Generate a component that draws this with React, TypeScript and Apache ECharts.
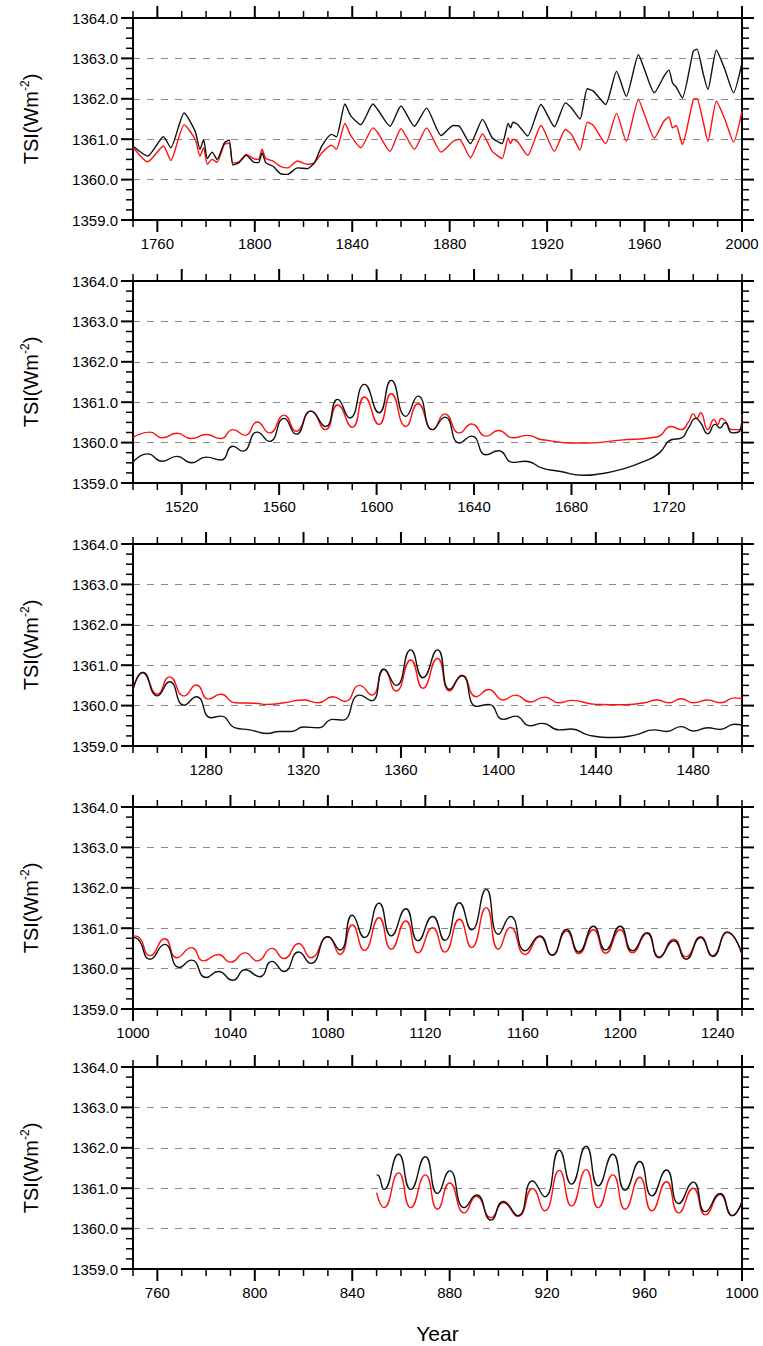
import React, { useEffect, useRef } from "react";
import * as echarts from "echarts";

// x ranges of the five panels (top to bottom)
const panelRanges: number[][] = [
  [1750, 2000],
  [1500, 1750],
  [1250, 1500],
  [1000, 1250],
  [750, 1000],
];

// labelled x ticks per panel
const xTickLabels: number[][] = [
  [1760, 1800, 1840, 1880, 1920, 1960, 2000],
  [1520, 1560, 1600, 1640, 1680, 1720],
  [1280, 1320, 1360, 1400, 1440, 1480],
  [1000, 1040, 1080, 1120, 1160, 1200, 1240],
  [760, 800, 840, 880, 920, 960, 1000],
];

// labelled y ticks (same for every panel)
const yTickLabels = [1359, 1360, 1361, 1362, 1363, 1364];
const yMin = 1359;
const yMax = 1364;

// Panel 1 : 1750-2000
const p1Black = [
  [1750, 1360.83], [1756, 1360.58], [1762.5, 1361.06], [1765.5, 1360.79], [1771, 1361.65],
  [1775.5, 1361.2], [1777.5, 1360.75], [1779, 1360.99], [1780.5, 1360.52], [1782.5, 1360.68],
  [1784.5, 1360.5], [1787.5, 1360.91], [1789.5, 1360.98], [1791, 1360.36], [1793.5, 1360.42],
  [1796.5, 1360.6], [1799.5, 1360.43], [1801.5, 1360.42], [1803, 1360.66], [1804.5, 1360.42],
  [1807.5, 1360.33], [1810.5, 1360.15], [1813.5, 1360.13], [1817.5, 1360.29], [1821.5, 1360.27],
  [1824.5, 1360.42], [1827.5, 1360.83], [1831.5, 1361.12], [1833.5, 1361.06], [1837, 1361.87],
  [1839.5, 1361.57], [1843.5, 1361.36], [1848.5, 1361.87], [1850.5, 1361.73], [1855.5, 1361.32],
  [1860, 1361.82], [1865.5, 1361.32], [1870.5, 1361.77], [1876.5, 1361.09], [1881.5, 1361.34],
  [1884, 1361.32], [1888.5, 1360.89], [1893.5, 1361.49], [1897.5, 1361.03], [1901.5, 1360.89],
  [1904, 1361.39], [1905, 1361.28], [1906, 1361.42], [1908, 1361.36], [1912, 1361.08],
  [1917.5, 1361.86], [1923, 1361.31], [1927.5, 1361.9], [1930, 1361.77], [1933.5, 1361.5],
  [1936.5, 1362.25], [1939, 1362.19], [1944, 1361.86], [1948.5, 1362.68], [1952.5, 1362.06],
  [1957.5, 1363.09], [1960, 1362.72], [1964, 1362.15], [1968, 1362.56], [1970, 1362.71],
  [1971.5, 1362.39], [1973, 1362.29], [1975.5, 1362.02], [1980, 1363.18], [1981.5, 1363.23],
  [1984, 1362.64], [1986, 1362.23], [1989.5, 1363.2], [1993, 1362.72], [1996.5, 1362.15],
  [2000, 1362.89],
];
const p1Red = [
  [1750, 1360.8], [1756, 1360.44], [1762.5, 1360.83], [1765.5, 1360.47], [1771, 1361.36],
  [1775.5, 1361.0], [1777.5, 1360.58], [1779, 1360.79], [1780.5, 1360.38], [1782.5, 1360.5],
  [1784.5, 1360.43], [1787.5, 1360.87], [1789.5, 1360.9], [1791, 1360.41], [1793.5, 1360.44],
  [1796.5, 1360.62], [1799.5, 1360.52], [1801.5, 1360.5], [1803, 1360.75], [1804.5, 1360.52],
  [1807.5, 1360.46], [1810.5, 1360.33], [1813.5, 1360.29], [1817.5, 1360.46], [1821.5, 1360.38],
  [1824.5, 1360.42], [1827.5, 1360.66], [1831.5, 1360.85], [1833.5, 1360.75], [1837, 1361.39],
  [1839.5, 1361.08], [1843.5, 1360.79], [1848.5, 1361.28], [1850.5, 1361.16], [1855.5, 1360.7],
  [1860, 1361.26], [1865.5, 1360.75], [1870.5, 1361.28], [1876.5, 1360.68], [1881.5, 1360.95],
  [1884, 1361.0], [1888.5, 1360.54], [1893.5, 1361.13], [1897.5, 1360.7], [1901.5, 1360.52],
  [1904, 1361.03], [1905, 1360.89], [1906, 1361.0], [1908, 1360.93], [1912, 1360.6],
  [1917.5, 1361.34], [1923, 1360.7], [1927.5, 1361.24], [1930, 1361.12], [1933.5, 1360.73],
  [1936.5, 1361.42], [1939, 1361.34], [1944, 1360.89], [1948.5, 1361.64], [1952.5, 1360.95],
  [1957.5, 1361.98], [1960, 1361.61], [1964, 1361.03], [1968, 1361.45], [1970, 1361.55],
  [1971.5, 1361.28], [1973, 1361.34], [1975.5, 1360.87], [1980, 1361.98], [1981.5, 1362.0],
  [1984, 1361.45], [1986, 1360.95], [1989.5, 1361.94], [1993, 1361.49], [1996.5, 1360.93],
  [2000, 1361.69],
];

// Panel 2 : 1500-1750
const p2Black = [
  [1500, 1359.52], [1506, 1359.72], [1512, 1359.54], [1518, 1359.66], [1524, 1359.5],
  [1530, 1359.64], [1536, 1359.57], [1541, 1359.91], [1545, 1359.79], [1551, 1360.26],
  [1556, 1360.03], [1562, 1360.6], [1567, 1360.21], [1573, 1360.78], [1579, 1360.4],
  [1584, 1361.07], [1589, 1360.61], [1595, 1361.44], [1601, 1360.74], [1606, 1361.54],
  [1612, 1360.65], [1617, 1361.15], [1623, 1360.32], [1628, 1360.63], [1634, 1359.99],
  [1639, 1360.16], [1645, 1359.7], [1650, 1359.8], [1656, 1359.51], [1661, 1359.54],
  [1668, 1359.37], [1675, 1359.29], [1685, 1359.19], [1692, 1359.23], [1700, 1359.33],
  [1710, 1359.54], [1716, 1359.74], [1721, 1360.07], [1725, 1360.11], [1728, 1360.36],
  [1731, 1360.6], [1733, 1360.49], [1736, 1360.22], [1739, 1360.45], [1741, 1360.36],
  [1743, 1360.49], [1746, 1360.24], [1749, 1360.28], [1750, 1360.65],
];
const p2Red = [
  [1500, 1360.12], [1507, 1360.26], [1512, 1360.12], [1518, 1360.23], [1524, 1360.1],
  [1530, 1360.2], [1536, 1360.1], [1541, 1360.32], [1546, 1360.18], [1551, 1360.51],
  [1556, 1360.24], [1562, 1360.68], [1567, 1360.28], [1573, 1360.78], [1579, 1360.32],
  [1584, 1360.93], [1590, 1360.38], [1595, 1361.13], [1601, 1360.45], [1606, 1361.21],
  [1612, 1360.4], [1617, 1360.96], [1623, 1360.32], [1628, 1360.71], [1634, 1360.24],
  [1639, 1360.46], [1645, 1360.16], [1650, 1360.3], [1656, 1360.12], [1662, 1360.18],
  [1668, 1360.07], [1685, 1359.99], [1700, 1360.06], [1715, 1360.14], [1721, 1360.4],
  [1725, 1360.32], [1728, 1360.51], [1730, 1360.71], [1731.5, 1360.6], [1733, 1360.74],
  [1736, 1360.32], [1738.5, 1360.57], [1740, 1360.45], [1741.5, 1360.6], [1743, 1360.55],
  [1746, 1360.32], [1749, 1360.32], [1750, 1360.69],
];

// Panel 3 : 1250-1500
const p3Black = [
  [1250, 1360.4], [1254, 1360.82], [1260, 1360.24], [1265, 1360.59], [1271, 1360.01],
  [1276, 1360.22], [1282, 1359.7], [1286, 1359.74], [1292, 1359.45], [1298, 1359.4],
  [1305, 1359.31], [1310, 1359.36], [1315, 1359.36], [1320, 1359.47], [1326, 1359.45],
  [1332, 1359.66], [1336, 1359.64], [1343, 1360.26], [1348, 1360.12], [1353, 1360.9],
  [1358, 1360.5], [1364, 1361.38], [1369, 1360.69], [1375, 1361.38], [1380, 1360.4],
  [1385, 1360.74], [1391, 1359.98], [1396, 1360.03], [1402, 1359.66], [1407, 1359.74],
  [1413, 1359.5], [1418, 1359.56], [1425, 1359.4], [1430, 1359.42], [1437, 1359.27],
  [1447, 1359.21], [1456, 1359.27], [1464, 1359.4], [1469, 1359.36], [1475, 1359.48],
  [1480, 1359.37], [1486, 1359.45], [1491, 1359.41], [1497, 1359.54], [1500, 1359.52],
];
const p3Red = [
  [1250, 1360.4], [1254, 1360.82], [1260, 1360.28], [1265, 1360.71], [1271, 1360.24],
  [1276, 1360.51], [1281, 1360.16], [1286, 1360.28], [1292, 1360.07], [1300, 1360.06],
  [1305, 1360.03], [1312, 1360.07], [1320, 1360.14], [1326, 1360.07], [1332, 1360.22],
  [1337, 1360.1], [1343, 1360.5], [1348, 1360.26], [1353, 1360.9], [1358, 1360.36],
  [1364, 1361.13], [1369, 1360.43], [1375, 1361.17], [1380, 1360.36], [1385, 1360.75],
  [1391, 1360.22], [1396, 1360.4], [1402, 1360.14], [1407, 1360.26], [1413, 1360.09],
  [1419, 1360.21], [1425, 1360.07], [1430, 1360.13], [1440, 1360.03], [1450, 1360.02],
  [1460, 1360.07], [1465, 1360.14], [1470, 1360.07], [1475, 1360.17], [1480, 1360.07],
  [1486, 1360.14], [1491, 1360.07], [1497, 1360.19], [1500, 1360.17],
];

// Panel 4 : 1000-1250
const p4Black = [
  [1000, 1360.77], [1002, 1360.73], [1007, 1360.23], [1013, 1360.6], [1019, 1360.03],
  [1024, 1360.21], [1030, 1359.78], [1035, 1359.93], [1041, 1359.71], [1046, 1359.97],
  [1052, 1359.8], [1057, 1360.18], [1062, 1359.93], [1068, 1360.41], [1073, 1360.13],
  [1080, 1360.79], [1085, 1360.46], [1090, 1361.32], [1095, 1360.77], [1101, 1361.62],
  [1106, 1360.81], [1112, 1361.48], [1117, 1360.69], [1123, 1361.29], [1128, 1360.7],
  [1134, 1361.63], [1139, 1360.96], [1145, 1361.96], [1150, 1360.85], [1155, 1361.29],
  [1161, 1360.44], [1167, 1360.81], [1172, 1360.33], [1178, 1360.97], [1183, 1360.41],
  [1189, 1361.05], [1194, 1360.46], [1200, 1361.05], [1205, 1360.44], [1211, 1360.89],
  [1216, 1360.27], [1222, 1360.69], [1227, 1360.23], [1233, 1360.77], [1238, 1360.3],
  [1244, 1360.91], [1250, 1360.36],
];
const p4Red = [
  [1000, 1360.81], [1002, 1360.79], [1007, 1360.32], [1013, 1360.74], [1018, 1360.27],
  [1024, 1360.52], [1029, 1360.19], [1035, 1360.35], [1040, 1360.16], [1046, 1360.39],
  [1051, 1360.19], [1057, 1360.5], [1062, 1360.25], [1068, 1360.62], [1073, 1360.27],
  [1080, 1360.79], [1085, 1360.35], [1090, 1361.08], [1095, 1360.45], [1101, 1361.26],
  [1106, 1360.48], [1112, 1361.18], [1117, 1360.39], [1123, 1361.01], [1128, 1360.41],
  [1134, 1361.22], [1139, 1360.52], [1145, 1361.51], [1150, 1360.48], [1155, 1361.02],
  [1161, 1360.35], [1167, 1360.79], [1172, 1360.33], [1178, 1360.93], [1183, 1360.37],
  [1189, 1360.96], [1194, 1360.38], [1200, 1360.96], [1205, 1360.39], [1211, 1360.87],
  [1216, 1360.29], [1222, 1360.73], [1227, 1360.29], [1233, 1360.79], [1238, 1360.32],
  [1244, 1360.89], [1250, 1360.36],
];

// Panel 5 : 750-1000 (data start at 850)
const p5Black = [
  [850, 1361.33], [851, 1361.3], [853, 1360.97], [859, 1361.84], [864, 1360.97],
  [870, 1361.78], [875, 1360.87], [880, 1361.43], [886, 1360.52], [891, 1360.83],
  [897, 1360.21], [902, 1360.67], [908, 1360.32], [914, 1361.18], [919, 1360.79],
  [925, 1361.94], [930, 1361.1], [936, 1362.04], [941, 1361.06], [947, 1361.84],
  [952, 1360.95], [958, 1361.66], [963, 1360.81], [969, 1361.45], [974, 1360.62],
  [980, 1361.15], [985, 1360.42], [991, 1360.87], [996, 1360.32], [1000, 1360.67],
];
const p5Red = [
  [850, 1360.89], [853, 1360.52], [859, 1361.38], [864, 1360.52], [870, 1361.33],
  [875, 1360.48], [880, 1361.13], [886, 1360.39], [891, 1360.8], [897, 1360.27],
  [902, 1360.64], [908, 1360.3], [914, 1360.99], [919, 1360.44], [925, 1361.44],
  [930, 1360.56], [936, 1361.46], [941, 1360.52], [947, 1361.33], [952, 1360.48],
  [958, 1361.27], [963, 1360.44], [969, 1361.16], [974, 1360.39], [980, 1361.0],
  [985, 1360.34], [991, 1360.84], [996, 1360.32], [1000, 1360.67],
];

const blackSeries = [p1Black, p2Black, p3Black, p4Black, p5Black];
const redSeries = [p1Red, p2Red, p3Red, p4Red, p5Red];

const FONT = "'Liberation Sans', Arial, Helvetica, sans-serif";

export default function App() {
  const ref = useRef<HTMLDivElement>(null);

  useEffect(() => {
    if (!ref.current) return;
    const chart = echarts.init(ref.current, null, { renderer: "svg" });

    const L = 133;
    const W = 609;
    const H = 202;
    const tops = [18, 281, 544, 807, 1067];
    const MAJOR = 12;
    const MINOR = 7;

    const grid = tops.map((t) => ({ left: L, top: t, width: W, height: H }));
    const xAxis: any[] = [];
    const yAxis: any[] = [];
    const series: any[] = [];

    const frameLine = { show: true, onZero: false, lineStyle: { color: "#000", width: 2 } };

    panelRanges.forEach((r, i) => {
      const [mn, mx] = r;
      const majors = xTickLabels[i];

      xAxis.push({
        type: "value",
        gridIndex: i,
        min: mn,
        max: mx,
        interval: 10,
        position: "bottom",
        axisLine: frameLine,
        axisTick: { show: false },
        splitLine: { show: false },
        axisLabel: {
          show: true,
          margin: 16,
          fontSize: 15,
          color: "#000",
          fontFamily: FONT,
          formatter: (v: number) => (majors.indexOf(v) >= 0 ? String(v) : ""),
        },
        ...(i === 4
          ? {
              name: "Year",
              nameLocation: "middle",
              nameGap: 54,
              nameTextStyle: { fontSize: 21, color: "#000", fontFamily: FONT },
            }
          : {}),
      });
      xAxis.push({
        type: "value",
        gridIndex: i,
        min: mn,
        max: mx,
        interval: 10,
        position: "top",
        axisLine: frameLine,
        axisTick: { show: false },
        axisLabel: { show: false },
        splitLine: { show: false },
      });

      yAxis.push({
        type: "value",
        gridIndex: i,
        min: yMin,
        max: yMax,
        interval: 1,
        position: "left",
        axisLine: frameLine,
        axisTick: { show: false },
        axisLabel: {
          show: true,
          margin: 15,
          fontSize: 15,
          color: "#000",
          fontFamily: FONT,
          formatter: (v: number) => v.toFixed(1),
        },
        splitLine: { show: true, lineStyle: { color: "#8a8a8a", width: 1, type: [7, 7] } },
        name: "{a|TSI(Wm}{s|-2}{a|)}",
        nameLocation: "middle",
        nameRotate: 90,
        nameGap: 90,
        nameTextStyle: {
          fontFamily: FONT,
          color: "#000",
          fontSize: 20,
          rich: {
            a: { fontSize: 20, fontFamily: FONT, color: "#000", lineHeight: 24 },
            s: { fontSize: 12, fontFamily: FONT, color: "#000", verticalAlign: "top", lineHeight: 12 },
          },
        },
      });
      yAxis.push({
        type: "value",
        gridIndex: i,
        min: yMin,
        max: yMax,
        interval: 1,
        position: "right",
        axisLine: frameLine,
        axisTick: { show: false },
        axisLabel: { show: false },
        splitLine: { show: false },
      });

      // tick marks: [value, orientation (0 = x, 1 = y), major flag]
      const ticks: number[][] = [];
      for (let v = mn; v <= mx; v += 10) ticks.push([v, 0, majors.indexOf(v) >= 0 ? 1 : 0]);
      for (let k = 0; k <= (yMax - yMin) * 4; k++) {
        const v = yMin + k * 0.25;
        ticks.push([v, 1, k % 4 === 0 ? 1 : 0]);
      }

      series.push({
        type: "custom",
        xAxisIndex: i * 2,
        yAxisIndex: i * 2,
        coordinateSystem: "cartesian2d",
        clip: false,
        silent: true,
        z: 10,
        encode: { x: 0, y: 0 },
        data: ticks,
        renderItem: (params: any, api: any) => {
          const v = api.value(0);
          const orient = api.value(1);
          const major = api.value(2) === 1;
          const len = major ? MAJOR : MINOR;
          const style = { stroke: "#000", lineWidth: major ? 2 : 1.5 };
          if (orient === 0) {
            const b = api.coord([v, yMin]);
            const t = api.coord([v, yMax]);
            return {
              type: "group",
              children: [
                { type: "line", shape: { x1: b[0], y1: b[1], x2: b[0], y2: b[1] + len }, style },
                { type: "line", shape: { x1: t[0], y1: t[1], x2: t[0], y2: t[1] - len }, style },
              ],
            };
          }
          const l = api.coord([mn, v]);
          const rr = api.coord([mx, v]);
          return {
            type: "group",
            children: [
              { type: "line", shape: { x1: l[0], y1: l[1], x2: l[0] - len, y2: l[1] }, style },
              { type: "line", shape: { x1: rr[0], y1: rr[1], x2: rr[0] + len, y2: rr[1] }, style },
            ],
          };
        },
      });

      const smooth = i === 0 ? 0.2 : 0.55;
      series.push({
        type: "line",
        xAxisIndex: i * 2,
        yAxisIndex: i * 2,
        data: redSeries[i],
        showSymbol: false,
        symbol: "none",
        smooth,
        lineStyle: { color: "#ff1010", width: 1.4 },
        z: 3,
      });
      series.push({
        type: "line",
        xAxisIndex: i * 2,
        yAxisIndex: i * 2,
        data: blackSeries[i],
        showSymbol: false,
        symbol: "none",
        smooth,
        lineStyle: { color: "#111", width: 1.4 },
        z: 4,
      });
    });

    chart.setOption({
      animation: false,
      backgroundColor: "#fff",
      grid,
      xAxis,
      yAxis,
      series,
    });

    return () => chart.dispose();
  }, []);

  return (
    <div
      ref={ref}
      style={{ position: "fixed", left: 0, top: 0, width: 763, height: 1346, background: "#fff" }}
    />
  );
}
